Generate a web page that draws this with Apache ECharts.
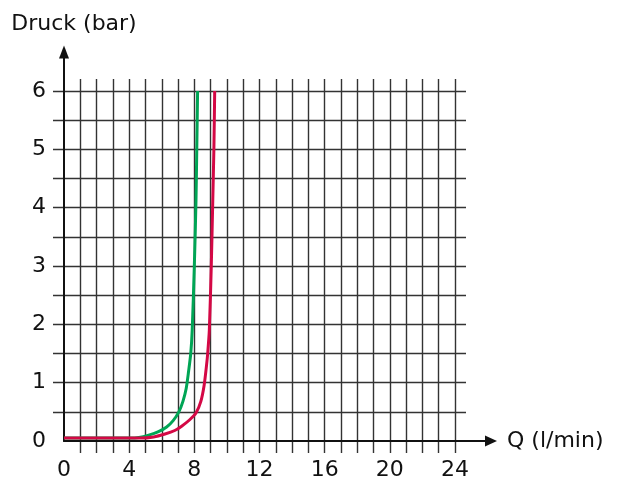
<!DOCTYPE html>
<html>
<head>
<meta charset="utf-8">
<script src="https://cdn.jsdelivr.net/npm/echarts@6/dist/echarts.min.js"></script>
<style>html,body{margin:0;padding:0;background:#fff}#c{width:622px;height:484px}</style>
</head>
<body>
<div id="c"></div>
<script>
// Axis ranges and steps
const xMin = 0, xMax = 24, xLabelStep = 4, xGridStep = 1;
const yMin = 0, yMax = 6, yLabelStep = 1, yGridStep = 0.5;
const xName = 'Q (l/min)';
const yName = 'Druck (bar)';

// Green curve (Q in l/min, pressure in bar)
const greenQ = [0, 4.0, 4.6, 5.2, 5.8, 6.3, 6.7, 7.05, 7.3, 7.5, 7.65, 7.78, 7.87, 8.0, 8.1, 8.15, 8.2];
const greenP = [0.05, 0.05, 0.06, 0.1, 0.16, 0.24, 0.35, 0.5, 0.68, 0.9, 1.2, 1.5, 1.9, 3.0, 4.1, 5.0, 6.0];
// Red curve
const redQ = [0, 4.7, 5.5, 6.2, 6.8, 7.2, 7.7, 8.1, 8.4, 8.6, 8.75, 8.82, 8.92, 9.04, 9.13, 9.2, 9.25];
const redP = [0.05, 0.05, 0.07, 0.12, 0.18, 0.25, 0.36, 0.48, 0.68, 0.95, 1.3, 1.5, 1.9, 3.0, 4.1, 5.0, 6.0];

const FONT = 'DejaVu Sans';
const gridColor = '#333';
const zip = (a, b) => a.map((v, i) => [v, b[i]]);

const chart = echarts.init(document.getElementById('c'), null, {renderer: 'canvas'});
chart.setOption({
  animation: false,
  backgroundColor: '#fff',
  grid: [
    {left: 64, top: 91, width: 391, height: 350},   // data + labels
    {left: 64, top: 79, width: 391, height: 374},   // vertical grid lines
    {left: 53, top: 91, width: 413, height: 350},   // horizontal grid lines
    {left: 64, top: 52, right: 131, bottom: 43}     // axis lines with arrows
  ],
  xAxis: [
    {gridIndex: 0, type: 'value', min: xMin, max: xMax, interval: xLabelStep,
      axisLine: {show: false}, axisTick: {show: false}, splitLine: {show: false},
      axisLabel: {margin: 18, fontFamily: FONT, fontSize: 22, color: '#111'}},
    {gridIndex: 1, type: 'value', min: xMin, max: xMax, interval: xGridStep,
      axisLine: {show: false}, axisTick: {show: false}, axisLabel: {show: false},
      splitLine: {show: true, showMinLine: false, lineStyle: {color: gridColor, width: 1.4}}},
    {gridIndex: 2, type: 'value', min: 0, max: 1, show: false},
    {gridIndex: 3, type: 'value', min: 0, max: 1, splitLine: {show: false},
      axisTick: {show: false}, axisLabel: {show: false},
      axisLine: {show: true, symbol: ['none', 'triangle'], symbolSize: [11, 12],
        lineStyle: {color: '#111', width: 2}},
      name: xName, nameLocation: 'end', nameGap: 16,
      nameTextStyle: {fontFamily: FONT, fontSize: 22, color: '#111'}}
  ],
  yAxis: [
    {gridIndex: 0, type: 'value', min: yMin, max: yMax, interval: yLabelStep,
      axisLine: {show: false}, axisTick: {show: false}, splitLine: {show: false},
      axisLabel: {margin: 18, fontFamily: FONT, fontSize: 22, color: '#111'}},
    {gridIndex: 1, type: 'value', min: 0, max: 1, show: false},
    {gridIndex: 2, type: 'value', min: yMin, max: yMax, interval: yGridStep,
      axisLine: {show: false}, axisTick: {show: false}, axisLabel: {show: false},
      splitLine: {show: true, showMinLine: false, lineStyle: {color: gridColor, width: 1.4}}},
    {gridIndex: 3, type: 'value', min: 0, max: 1, splitLine: {show: false},
      axisTick: {show: false}, axisLabel: {show: false},
      axisLine: {show: true, symbol: ['none', 'triangle'], symbolSize: [10, 13],
        lineStyle: {color: '#111', width: 2}},
      name: yName, nameLocation: 'end', nameGap: 17,
      nameTextStyle: {fontFamily: FONT, fontSize: 22, color: '#111', padding: [0, 0, 0, 20]}}
  ],
  series: [
    {type: 'line', xAxisIndex: 0, yAxisIndex: 0, data: zip(greenQ, greenP),
      smooth: 0.25, showSymbol: false, z: 5,
      lineStyle: {color: '#00a555', width: 3, cap: 'butt', join: 'round'}},
    {type: 'line', xAxisIndex: 0, yAxisIndex: 0, data: zip(redQ, redP),
      smooth: 0.25, showSymbol: false, z: 5,
      lineStyle: {color: '#d40845', width: 3, cap: 'butt', join: 'round'}}
  ]
});
</script>
</body>
</html>
